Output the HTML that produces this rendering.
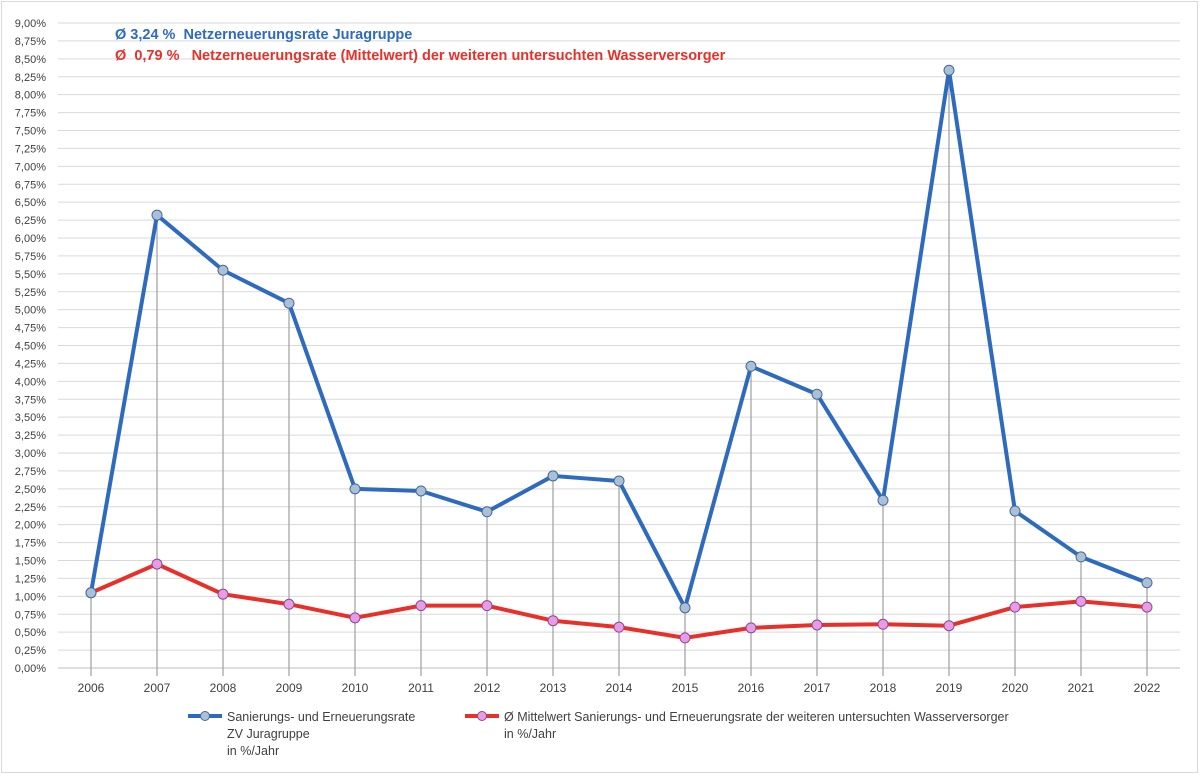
<!DOCTYPE html>
<html><head><meta charset="utf-8"><style>
body{margin:0;background:#fff}
svg{display:block;font-family:"Liberation Sans",sans-serif}
text{white-space:pre}
</style></head><body>
<svg id="c" width="1200" height="775">
<rect x="1.5" y="1.5" width="1196" height="771" fill="#fff" stroke="#d9d9d9"/>
<g id="grid"></g><g id="drops"></g><g id="series"></g><g id="axes"></g>
<text x="115" y="39" font-size="14.5" font-weight="bold" fill="#2e6bbf">Ø 3,24 %  Netzerneuerungsrate Juragruppe</text>
<text x="115" y="60" font-size="14.5" font-weight="bold" fill="#e8302a">Ø  0,79 %   Netzerneuerungsrate (Mittelwert) der weiteren untersuchten Wasserversorger</text>
<g>
<line x1="188" y1="716" x2="222" y2="716" stroke="#2e6bbf" stroke-width="4"/>
<circle cx="205" cy="716" r="4.5" fill="#a9c0db" stroke="#4a6a8f"/>
<text x="227" y="721" font-size="12.5" fill="#404040"><tspan x="227">Sanierungs- und Erneuerungsrate</tspan><tspan x="227" dy="17">ZV Juragruppe</tspan><tspan x="227" dy="17">in %/Jahr</tspan></text>
<line x1="465" y1="716" x2="499" y2="716" stroke="#e8302a" stroke-width="4"/>
<circle cx="482" cy="716" r="4.5" fill="#e89be6" stroke="#8a4a88"/>
<text x="504" y="721" font-size="12.5" fill="#404040"><tspan x="504">Ø Mittelwert Sanierungs- und Erneuerungsrate der weiteren untersuchten Wasserversorger</tspan><tspan x="504" dy="17">in %/Jahr</tspan></text>
</g>
</svg>
<script>
const years=[2006,2007,2008,2009,2010,2011,2012,2013,2014,2015,2016,2017,2018,2019,2020,2021,2022];
const jura=[1.05,6.32,5.55,5.09,2.50,2.47,2.18,2.68,2.61,0.84,4.21,3.82,2.34,8.34,2.19,1.55,1.19];
const mittel=[1.05,1.45,1.03,0.89,0.70,0.87,0.87,0.66,0.57,0.42,0.56,0.60,0.61,0.59,0.85,0.93,0.85];
const yTicks=[];for(let i=0;i<=36;i++)yTicks.push(i*0.25);
const NS="http://www.w3.org/2000/svg";
const x0=91,x1=1147,y0=668,y1=23,yMax=9;
const xs=i=>x0+i*(x1-x0)/(years.length-1);
const ys=v=>y0-v/yMax*(y0-y1);
function mk(t,a,p){const e=document.createElementNS(NS,t);for(const k in a)e.setAttribute(k,a[k]);p.appendChild(e);return e;}
const g=document.getElementById('grid'),ax=document.getElementById('axes'),dr=document.getElementById('drops'),se=document.getElementById('series');
yTicks.forEach(v=>{
 const l=mk('line',{x1:58,x2:1180,y1:ys(v),y2:ys(v),stroke:v===0?'#bfbfbf':'#d9d9d9'},g);
 
 
 const t=mk('text',{x:46,y:ys(v)+4,'font-size':11,fill:'#404040','text-anchor':'end'},ax);
 t.textContent=v.toFixed(2).replace('.',',')+'%';
 
 
});
years.forEach((y,i)=>{
 const t=mk('text',{x:xs(i),y:692,'font-size':12,fill:'#404040','text-anchor':'middle'},ax);
 t.textContent=y;
 
 
 const d=mk('line',{x1:xs(i),x2:xs(i),y1:ys(jura[i]),y2:y0+8,stroke:'#a6a6a6','stroke-width':1.3},dr);
 
 
});
function series(vals,col,fill,stroke,name){
 const p=mk('polyline',{points:vals.map((v,i)=>xs(i)+','+ys(v)).join(' '),fill:'none',stroke:col,'stroke-width':4,'stroke-linejoin':'round'},se);
 
 
 vals.forEach((v,i)=>{
  const c=mk('circle',{cx:xs(i),cy:ys(v),r:5,fill:fill,stroke:stroke},se);
  
  
 });
}
series(mittel,'#e8302a','#e89be6','#8a4a88','mittelwert');
series(jura,'#2e6bbf','#a9c0db','#4a6a8f','juragruppe');
</script>
</body></html>
